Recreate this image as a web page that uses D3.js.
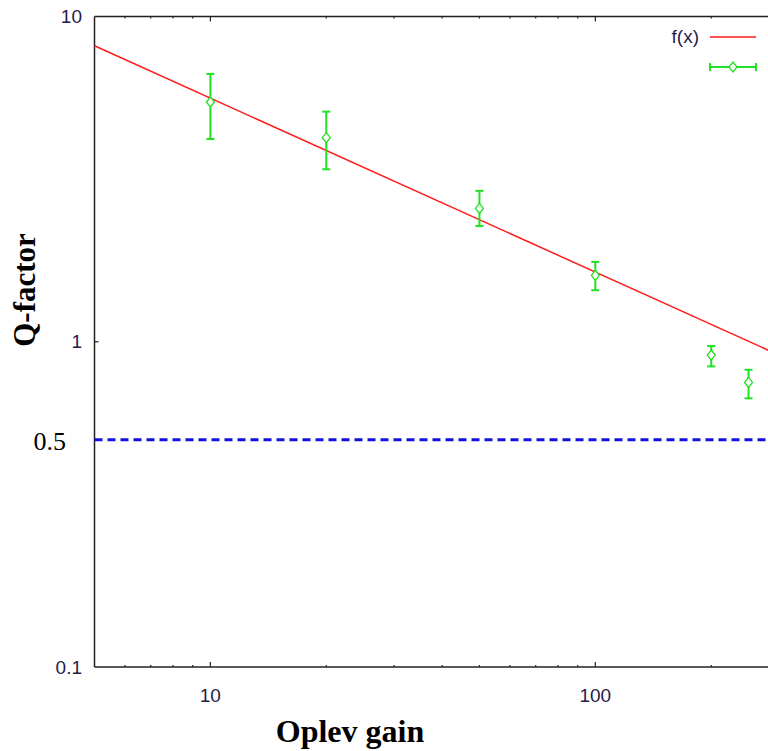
<!DOCTYPE html>
<html><head><meta charset="utf-8">
<script src="https://cdn.jsdelivr.net/npm/d3@7"></script>
<style>body{margin:0;background:#fff}svg{display:block}</style>
</head><body>
<script>
// data
const gains = [10, 20, 50, 100, 200, 250];
const qValues = [5.46, 4.24, 2.57, 1.60, 0.91, 0.75];
const qLow = [4.20, 3.39, 2.27, 1.44, 0.84, 0.67];
const qHigh = [6.66, 5.10, 2.91, 1.76, 0.97, 0.82];
const fitX = [5, 300];
const fitY = [8.13, 0.91];
const thresholdValue = 0.5;
const xMajorTicks = [10, 100];
const xMinorTicks = [6, 7, 8, 9, 20, 30, 40, 50, 60, 70, 80, 90, 200];
const yTickLabels = [10, 1, 0.1];

const W = 768, H = 751;
const svg = d3.select("body").append("svg").attr("width", W).attr("height", H);
const x = d3.scaleLog().domain([5, 300]).range([94.5, 779]);
const y = d3.scaleLog().domain([0.1, 10]).range([667, 16.5]);

const green = "#22e022", red = "#ff1a1a";

// frame (left, bottom, top)
const fr = svg.append("g").attr("stroke", "#222").attr("stroke-width", 1.5).attr("fill", "none");
fr.append("line").attr("x1", x(5)).attr("x2", x(5)).attr("y1", y(10)).attr("y2", y(0.1));
fr.append("line").attr("x1", x(5)).attr("x2", W).attr("y1", y(0.1)).attr("y2", y(0.1));
fr.append("line").attr("x1", x(5)).attr("x2", W).attr("y1", y(10)).attr("y2", y(10));

// x ticks (inward, bottom and top)
const tk = svg.append("g").attr("stroke", "#222").attr("stroke-width", 1.2);
[...xMajorTicks.map(v => [v, 5]), ...xMinorTicks.map(v => [v, 2])].forEach(([v, len]) => {
  tk.append("line").attr("x1", x(v)).attr("x2", x(v)).attr("y1", y(0.1)).attr("y2", y(0.1) - len);
  tk.append("line").attr("x1", x(v)).attr("x2", x(v)).attr("y1", y(10)).attr("y2", y(10) + len);
});
tk.append("line").attr("x1", x(5)).attr("x2", x(5) + 4).attr("y1", y(1)).attr("y2", y(1));

// tick labels
const lf = "Liberation Sans, Arial, sans-serif";
svg.append("g").selectAll("text").data(xMajorTicks).join("text")
  .attr("x", d => x(d)).attr("y", 702).attr("text-anchor", "middle")
  .attr("font-family", lf).attr("font-size", 19).attr("fill", "#2a1a4a").text(d => d);
svg.append("g").selectAll("text").data(yTickLabels).join("text")
  .attr("x", 82).attr("y", d => y(d) + 6.5).attr("text-anchor", "end")
  .attr("font-family", lf).attr("font-size", 19).attr("fill", "#2a1a4a").text(d => d);

// threshold
svg.append("line").attr("x1", x(5)).attr("x2", W).attr("y1", y(thresholdValue)).attr("y2", y(thresholdValue))
  .attr("stroke", "#1010e0").attr("stroke-width", 3).attr("stroke-dasharray", "8,5");
svg.append("text").attr("x", 66).attr("y", 450).attr("text-anchor", "end")
  .attr("font-family", "Liberation Serif, Times New Roman, serif").attr("font-size", 26).attr("fill", "#000").text(thresholdValue);

// fit line
svg.append("path").datum(fitX.map((v, i) => [v, fitY[i]]))
  .attr("d", d3.line().x(d => x(d[0])).y(d => y(d[1])))
  .attr("stroke", red).attr("stroke-width", 1.5).attr("fill", "none");

// error bars
const eb = svg.append("g").attr("stroke", green).attr("stroke-width", 2).attr("fill", "none");
gains.forEach((g, i) => {
  const cx = x(g);
  eb.append("line").attr("x1", cx).attr("x2", cx).attr("y1", y(qLow[i])).attr("y2", y(qHigh[i]));
  eb.append("line").attr("x1", cx - 4).attr("x2", cx + 4).attr("y1", y(qLow[i])).attr("y2", y(qLow[i]));
  eb.append("line").attr("x1", cx - 4).attr("x2", cx + 4).attr("y1", y(qHigh[i])).attr("y2", y(qHigh[i]));
  const cy = y(qValues[i]);
  eb.append("path").attr("d", `M${cx - 4},${cy}L${cx},${cy - 5}L${cx + 4},${cy}L${cx},${cy + 5}Z`)
    .attr("stroke-width", 1.3).attr("fill", "#fff");
});

// legend
svg.append("text").attr("x", 699).attr("y", 43).attr("text-anchor", "end")
  .attr("font-family", lf).attr("font-size", 19).attr("fill", "#2a1a4a").text("f(x)");
svg.append("line").attr("x1", 710).attr("x2", 756).attr("y1", 37).attr("y2", 37).attr("stroke", red).attr("stroke-width", 1.5);
const lg = svg.append("g").attr("stroke", green).attr("stroke-width", 2).attr("fill", "none");
lg.append("line").attr("x1", 710).attr("x2", 756).attr("y1", 67).attr("y2", 67);
lg.append("line").attr("x1", 710).attr("x2", 710).attr("y1", 63).attr("y2", 71);
lg.append("line").attr("x1", 756).attr("x2", 756).attr("y1", 63).attr("y2", 71);
lg.append("path").attr("d", "M729,67L733,62L737,67L733,72Z").attr("stroke-width", 1.3).attr("fill", "#fff");

// axis titles
const tf = "Liberation Serif, Times New Roman, serif";
svg.append("text").attr("x", 350).attr("y", 742).attr("text-anchor", "middle")
  .attr("font-family", tf).attr("font-weight", "bold").attr("font-size", 32).text("Oplev gain");
svg.append("text").attr("transform", "translate(35,290) rotate(-90)").attr("text-anchor", "middle")
  .attr("font-family", tf).attr("font-weight", "bold").attr("font-size", 31).text("Q-factor");
</script>
</body></html>
